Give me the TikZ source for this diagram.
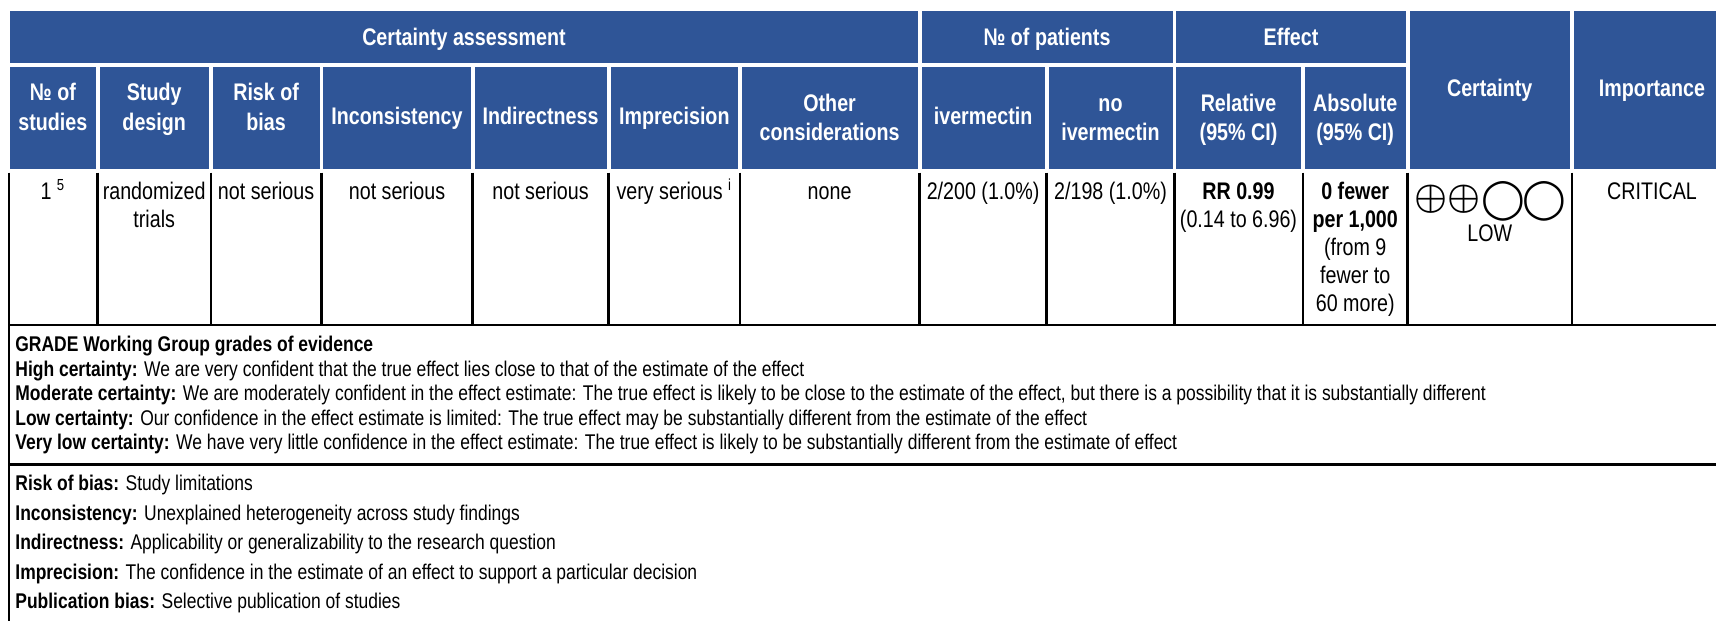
\documentclass[tikz,border=0pt]{standalone}
\usepackage{fontspec}
\setmainfont[FakeStretch=0.82]{Liberation Sans}
\newfontfamily\symfnt{DejaVu Sans}
\definecolor{hdrblue}{HTML}{2F5597}
\newcommand\myhfont{\fontsize{12}{14}\selectfont\bfseries}
\newcommand\mydfont{\fontsize{12}{14}\selectfont}
\newcommand\mynfont{\fontsize{10.65}{12}\selectfont}
\begin{document}
\begin{tikzpicture}[x=0.5pt,y=-0.5pt,
  hdr/.style={anchor=base, inner sep=0pt, text=white, font=\myhfont},
  dat/.style={anchor=base, inner sep=0pt, font=\mydfont},
  datb/.style={anchor=base, inner sep=0pt, font=\mydfont\bfseries},
  note/.style={anchor=base west, inner sep=0pt, font=\mynfont},
  symplus/.style={anchor=center, inner sep=0pt, font=\fontsize{10}{12}\selectfont\boldmath, scale=1.85, transform shape},
  symcirc/.style={anchor=center, inner sep=0pt, font=\symfnt\fontsize{19.5}{21}\selectfont},
  hrule/.style={line width=1.4pt, black},
  vrule/.style={line width=1.2pt, black}]
\useasboundingbox[fill=white] (0,0) rectangle (1716,621);
% header row 1
\fill[hdrblue] (10,11) rectangle (917.6,63.3);
\fill[hdrblue] (921.5,11) rectangle (1172.5,63.3);
\fill[hdrblue] (1176.3,11) rectangle (1405.6,63.3);
\fill[hdrblue] (1409.7,11) rectangle (1569.7,169);
\fill[hdrblue] (1573.8,11) rectangle (1716,169);
% header row 2
\foreach \a/\b in {10/95.7,99.6/208.8,212.7/319.5,323.4/470.5,474.5/606.5,610.7/737.8,741.6/917.6,921.5/1044.7,1048.5/1172.5,1176.3/1300.7,1304.8/1405.6}
  \fill[hdrblue] (\a,67) rectangle (\b,169);
% header texts
\node[hdr] (ca) at (464,45.5) {Certainty assessment};
\node[hdr] (np) at (1047,45.5) {№ of patients};
\node[hdr] (ef) at (1291,45.5) {Effect};
\node[hdr] (ce) at (1489.7,96) {Certainty};
\node[hdr] (im) at (1652,96) {Importance};
\node[hdr] (h0a) at (52.9,100.5) {№ of};
\node[hdr] (h0b) at (52.9,130) {studies};
\node[hdr] (h1a) at (154.2,100.5) {Study};
\node[hdr] (h1b) at (154.2,130) {design};
\node[hdr] (h2a) at (266.1,100.5) {Risk of};
\node[hdr] (h2b) at (266.1,130) {bias};
\node[hdr] (h3) at (397,124) {Inconsistency};
\node[hdr] (h4) at (540.5,124) {Indirectness};
\node[hdr] (h5) at (674.3,124) {Imprecision};
\node[hdr] (h6a) at (829.6,111.5) {Other};
\node[hdr] (h6b) at (829.6,140) {considerations};
\node[hdr] (h7) at (983.1,124) {ivermectin};
\node[hdr] (h8a) at (1110.5,111.5) {no};
\node[hdr] (h8b) at (1110.5,140) {ivermectin};
\node[hdr] (h9a) at (1238.5,111.5) {Relative};
\node[hdr] (h9b) at (1238.5,140) {(95\% CI)};
\node[hdr] (h10a) at (1355.2,111.5) {Absolute};
\node[hdr] (h10b) at (1355.2,140) {(95\% CI)};
% data row rules
\draw[vrule] (8.7,172.7) -- (8.7,621);
\foreach \x in {97.6,210.8,321.5,472.5,608.6,739.7,919.5,1046.6,1174.4,1302.7,1407.6,1571.7}
  \draw[vrule] (\x,172.7) -- (\x,325);
\draw[hrule] (8,325) -- (1716,325);
\draw[hrule] (8,464.5) -- (1716,464.5);
% data texts
\node[dat] (d0) at (52.9,199) {1 \textsuperscript{5}};
\node[dat] (d1a) at (154.2,199) {randomized};
\node[dat] (d1b) at (154.2,227.5) {trials};
\node[dat] (d2) at (266.1,199) {not serious};
\node[dat] (d3) at (397,199) {not serious};
\node[dat] (d4) at (540.5,199) {not serious};
\node[dat] (d5) at (674.3,199) {very serious \textsuperscript{i}};
\node[dat] (d6) at (829.6,199) {none};
\node[dat] (d7) at (983.1,199) {2/200 (1.0\%)};
\node[dat] (d8) at (1110.5,199) {2/198 (1.0\%)};
\node[datb] (d9a) at (1238.5,199) {RR 0.99};
\node[dat] (d9b) at (1238.5,227) {(0.14 to 6.96)};
\node[datb] (d10a) at (1355.2,199) {0 fewer};
\node[datb] (d10b) at (1355.2,227) {per 1,000};
\node[dat] (d10c) at (1355.2,255) {(from 9};
\node[dat] (d10d) at (1355.2,283) {fewer to};
\node[dat] (d10e) at (1355.2,311) {60 more)};
\node[symplus] (s1) at (1430.8,199.7) {$\oplus$};
\node[symplus] (s2) at (1463.9,199.7) {$\oplus$};
\node[symcirc] (s3) at (1503.4,201) {◯};
\node[symcirc] (s4) at (1544.5,201) {◯};
\node[dat] (low) at (1489.7,241) {LOW};
\node[dat] (crit) at (1652,199) {CRITICAL};
% GRADE notes
\node[note] (g0) at (15,351.7) {\bfseries GRADE Working Group grades of evidence};
\node[note] (g1) at (15,376) {\textbf{High certainty:} We are very confident that the true effect lies close to that of the estimate of the effect};
\node[note] (g2) at (15,400.5) {\textbf{Moderate certainty:} We are moderately confident in the effect estimate: The true effect is likely to be close to the estimate of the effect, but there is a possibility that it is substantially different};
\node[note] (g3) at (15,425) {\textbf{Low certainty:} Our confidence in the effect estimate is limited: The true effect may be substantially different from the estimate of the effect};
\node[note] (g4) at (15,449.5) {\textbf{Very low certainty:} We have very little confidence in the effect estimate: The true effect is likely to be substantially different from the estimate of effect};
% definitions
\node[note] (n1) at (15,490.7) {\textbf{Risk of bias:} Study limitations};
\node[note] (n2) at (15,520) {\textbf{Inconsistency:} Unexplained heterogeneity across study findings};
\node[note] (n3) at (15,549.5) {\textbf{Indirectness:} Applicability or generalizability to the research question};
\node[note] (n4) at (15,579) {\textbf{Imprecision:} The confidence in the estimate of an effect to support a particular decision};
\node[note] (n5) at (15,608.5) {\textbf{Publication bias:} Selective publication of studies};
\end{tikzpicture}
\end{document}
